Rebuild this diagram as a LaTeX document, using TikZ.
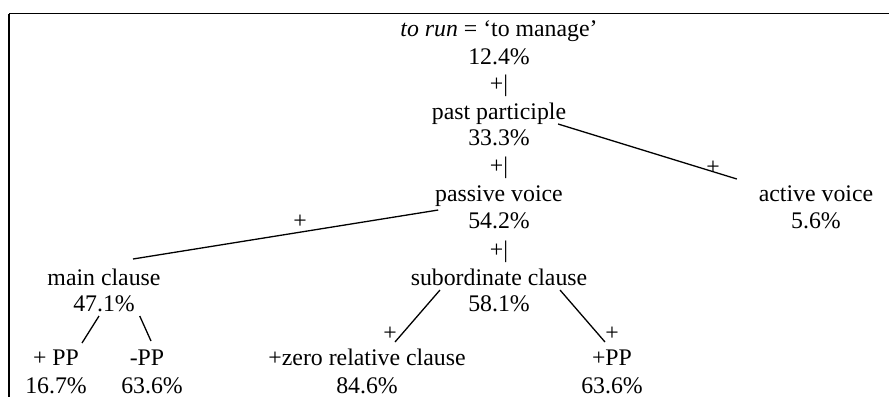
\documentclass[tikz,border=0pt]{standalone}
\usepackage{fontspec}
\setmainfont{Liberation Serif}
\begin{document}
\begin{tikzpicture}[x=1pt,y=-1pt,
  lbl/.style={inner sep=0pt,outer sep=0pt,anchor=base,font=\fontsize{23.8}{28}\selectfont},
  plus/.style={inner sep=0pt,outer sep=0pt,anchor=center,font=\fontsize{23.8}{28}\selectfont},
  conn/.style={line width=1.3pt,black},
  frame/.style={black}]
\useasboundingbox (0,0) rectangle (889,397);
\draw[frame,line width=1.6pt] (889,13.5) -- (9,13.5);
\draw[frame,line width=1.1pt] (9,13.5) -- (9,397);
% central column
\node[lbl] (t0) at (499,36) {\textit{to run} = ‘to manage’};
\node[lbl] (p0) at (499,64) {12.4\%};
\node[lbl] (s1) at (499,91) {+|};
\node[lbl] (pp) at (499,119) {past participle};
\node[lbl] (p1) at (499,145) {33.3\%};
\node[lbl] (s2) at (499,173) {+|};
\node[lbl] (pv) at (499,201) {passive voice};
\node[lbl] (p2) at (499,228) {54.2\%};
\node[lbl] (s3) at (499,257) {+|};
\node[lbl] (sc) at (499,285) {subordinate clause};
\node[lbl] (p3) at (499,311) {58.1\%};
% right
\node[lbl] (av) at (816,201) {active voice};
\node[lbl] (p4) at (816,228) {5.6\%};
% left
\node[lbl] (mc) at (104,285) {main clause};
\node[lbl] (p5) at (104,311) {47.1\%};
\node[lbl] (ppl) at (56,365) {+ PP};
\node[lbl] (p6) at (56,393) {16.7\%};
\node[lbl] (mpp) at (147,365) {-PP};
\node[lbl] (p7) at (152,393) {63.6\%};
% bottom middle
\node[lbl] (zr) at (367,365) {+zero relative clause};
\node[lbl] (p8) at (367,393) {84.6\%};
\node[lbl] (pp2) at (612,365) {+PP};
\node[lbl] (p9) at (612,393) {63.6\%};
% plus labels on connectors
\node[plus] (pl1) at (713,168) {+};
\node[plus] (pl2) at (300,222) {+};
\node[plus] (pl3) at (390,334) {+};
\node[plus] (pl4) at (612,334) {+};
% connectors
\draw[conn] ([shift={(-8,5)}]pp.base east) -- ([shift={(-22,-22)}]av.base west);
\draw[conn] ([shift={(3,9)}]pv.base west) -- ([shift={(29,-26)}]mc.base);
\draw[conn] ([shift={(-5,5)}]p5.base) -- ([shift={(26,-22)}]ppl.base);
\draw[conn] ([shift={(5,5)}]p5.base east) -- ([shift={(4,-24)}]mpp.base);
\draw[conn] ([shift={(-59,5)}]sc.base) -- ([shift={(28,-23)}]zr.base);
\draw[conn] ([shift={(61,5)}]sc.base) -- ([shift={(-7,-23)}]pp2.base);
\end{tikzpicture}
\end{document}
